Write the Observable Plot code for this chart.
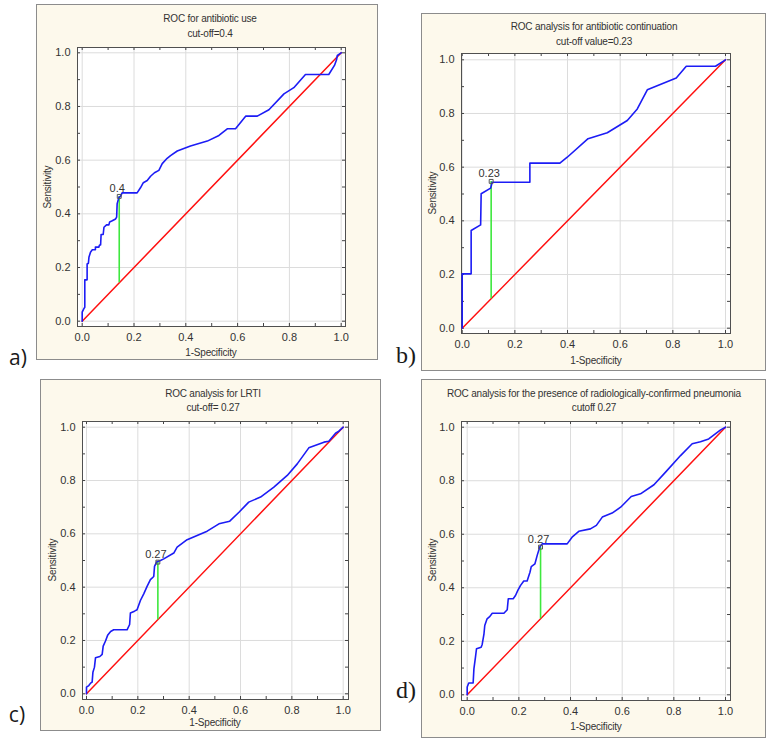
<!DOCTYPE html>
<html>
<head>
<meta charset="utf-8">
<script src="https://cdn.jsdelivr.net/npm/d3@7"></script>
<script src="https://cdn.jsdelivr.net/npm/@observablehq/plot@0.6"></script>
<style>
  html, body { margin: 0; padding: 0; background: #ffffff; }
  #root { position: relative; width: 770px; height: 742px; overflow: hidden; background: #ffffff; }
  .box { position: absolute; box-sizing: border-box; border: 1px solid #8c8c8c; background: #fdf9ec; }
  .lbl { position: absolute; font-family: "Liberation Sans", Arial, sans-serif; font-size: 10px; color: #333; white-space: nowrap; letter-spacing: -0.2px; }
  .ttl { transform: translate(-50%, -50%); text-align: center; }
  .ylab { transform: translate(-50%, -50%) rotate(-90deg); }
  .plab { position: absolute; transform: translate(-50%, -50%); color: #1a1a1a; white-space: nowrap; }
  .svgwrap { position: absolute; }
</style>
</head>
<body>
<div id="root"></div>
<script>
// ---------- data ----------
const panelLetters = ["a)", "b)", "c)", "d)"];
const titles = [
  "ROC for antibiotic use",
  "ROC analysis for antibiotic continuation",
  "ROC analysis for LRTI",
  "ROC analysis for the presence of radiologically-confirmed pneumonia"
];
const subtitles = ["cut-off=0.4", "cut-off value=0.23", "cut-off= 0.27", "cutoff 0.27"];
const xLabel = "1-Specificity";
const yLabel = "Sensitivity";
const majorTicks = [0, 0.2, 0.4, 0.6, 0.8, 1.0];
const minorTicks = [0, 0.1, 0.2, 0.3, 0.4, 0.5, 0.6, 0.7, 0.8, 0.9, 1.0];
const diagX = [0, 1];
const diagY = [0, 1];

// panel a: antibiotic use
const aX = [0, 0, 0.006, 0.01, 0.01, 0.019, 0.019, 0.024, 0.026, 0.032, 0.039, 0.051, 0.051, 0.064, 0.067, 0.071, 0.073, 0.081, 0.084, 0.094, 0.103, 0.106, 0.116, 0.129, 0.133, 0.135, 0.142, 0.148, 0.154, 0.212, 0.225, 0.236, 0.251, 0.264, 0.279, 0.296, 0.309, 0.328, 0.341, 0.367, 0.418, 0.483, 0.528, 0.560, 0.592, 0.631, 0.676, 0.721, 0.779, 0.817, 0.862, 0.952, 0.974, 0.982, 0.985, 1];
const aY = [0, 0.034, 0.046, 0.052, 0.154, 0.154, 0.213, 0.216, 0.238, 0.257, 0.266, 0.266, 0.276, 0.276, 0.284, 0.284, 0.323, 0.323, 0.350, 0.359, 0.359, 0.370, 0.374, 0.381, 0.388, 0.438, 0.462, 0.465, 0.478, 0.478, 0.497, 0.516, 0.524, 0.540, 0.553, 0.562, 0.587, 0.607, 0.617, 0.634, 0.653, 0.671, 0.692, 0.717, 0.717, 0.764, 0.764, 0.788, 0.847, 0.870, 0.919, 0.919, 0.953, 0.974, 0.990, 1];

// panel b: antibiotic continuation
const bX = [0, 0, 0.034, 0.034, 0.070, 0.072, 0.108, 0.114, 0.257, 0.257, 0.371, 0.399, 0.478, 0.551, 0.627, 0.665, 0.703, 0.813, 0.851, 0.962, 1];
const bY = [0, 0.2025, 0.2025, 0.364, 0.385, 0.501, 0.522, 0.544, 0.544, 0.615, 0.615, 0.637, 0.706, 0.728, 0.774, 0.817, 0.888, 0.932, 0.976, 0.976, 1];

// panel c: LRTI
const cX = [0, 0, 0.009, 0.016, 0.022, 0.025, 0.031, 0.035, 0.052, 0.061, 0.065, 0.074, 0.083, 0.094, 0.106, 0.158, 0.168, 0.171, 0.187, 0.197, 0.210, 0.223, 0.236, 0.249, 0.262, 0.265, 0.273, 0.288, 0.301, 0.340, 0.353, 0.392, 0.431, 0.470, 0.516, 0.558, 0.594, 0.632, 0.678, 0.730, 0.782, 0.821, 0.866, 0.925, 0.944, 0.970, 0.983, 1];
const cY = [0, 0.025, 0.031, 0.040, 0.044, 0.081, 0.100, 0.135, 0.140, 0.148, 0.179, 0.198, 0.221, 0.234, 0.240, 0.240, 0.260, 0.303, 0.310, 0.315, 0.350, 0.375, 0.403, 0.428, 0.440, 0.478, 0.494, 0.500, 0.506, 0.528, 0.550, 0.578, 0.594, 0.610, 0.6375, 0.6475, 0.681, 0.719, 0.738, 0.775, 0.819, 0.8625, 0.9225, 0.944, 0.9475, 0.9775, 0.985, 1];

// panel d: radiologically-confirmed pneumonia
const dX = [0, 0, 0.006, 0.023, 0.026, 0.032, 0.036, 0.054, 0.058, 0.065, 0.068, 0.077, 0.088, 0.097, 0.142, 0.155, 0.159, 0.178, 0.187, 0.196, 0.206, 0.219, 0.232, 0.243, 0.248, 0.262, 0.271, 0.281, 0.290, 0.387, 0.406, 0.432, 0.477, 0.500, 0.523, 0.561, 0.594, 0.635, 0.671, 0.723, 0.768, 0.826, 0.871, 0.903, 0.935, 0.981, 1];
const dY = [0, 0.029, 0.044, 0.044, 0.097, 0.141, 0.172, 0.178, 0.188, 0.228, 0.259, 0.284, 0.293, 0.305, 0.305, 0.318, 0.359, 0.359, 0.371, 0.390, 0.408, 0.425, 0.425, 0.458, 0.479, 0.489, 0.521, 0.552, 0.564, 0.564, 0.589, 0.611, 0.620, 0.633, 0.664, 0.679, 0.701, 0.741, 0.751, 0.785, 0.832, 0.894, 0.938, 0.946, 0.956, 0.990, 1];

const cutX = [0.143, 0.110, 0.278, 0.284];
const cutY = [0.465, 0.547, 0.494, 0.552];
const cutLabels = ["0.4", "0.23", "0.27", "0.27"];

// ---------- layout ----------
const seriesX = [aX, bX, cX, dX];
const seriesY = [aY, bY, cY, dY];
const layout = [
  { box: [36, 4, 342, 356], m: [43, 33, 34, 41], ins: [5.3, 4.3, 5.3, 4.7],
    title: [210, 18], sub: [210, 33], ylab: [47, 187], xlab: [211, 352], letter: [18, 357], letterFont: '21px "Open Sans", Lato, sans-serif' },
  { box: [421, 13, 345, 358], m: [40, 36, 38, 40], ins: [6.3, 5, 5.3, 0.7],
    title: [594, 26], sub: [594, 41], ylab: [432, 193], xlab: [596, 360], letter: [406, 355], letterFont: '24px "Liberation Serif", "DejaVu Serif", serif' },
  { box: [40, 379, 341, 352], m: [42, 33, 32, 42], ins: [5.7, 5.3, 5.7, 4],
    title: [213, 393], sub: [213, 407], ylab: [52, 560], xlab: [215, 722], letter: [17, 714], letterFont: '21px "Open Sans", Lato, sans-serif' },
  { box: [421, 379, 345, 359], m: [42, 36, 38, 40], ins: [5.7, 5, 5.7, 5.7],
    title: [594, 393], sub: [594, 407], ylab: [432, 560], xlab: [596, 726], letter: [406, 690], letterFont: '24px "Liberation Serif", "DejaVu Serif", serif' }
];

const root = document.getElementById("root");
function addText(cls, txt, pos, extraStyle) {
  const el = document.createElement("div");
  el.className = cls;
  el.textContent = txt;
  el.style.left = pos[0] + "px";
  el.style.top = pos[1] + "px";
  if (extraStyle) Object.assign(el.style, extraStyle);
  root.appendChild(el);
  return el;
}

layout.forEach((L, i) => {
  const [bx, by, bw, bh] = L.box;
  const [mt, mr, mb, ml] = L.m;
  const [it, ir, ib, il] = L.ins;
  const box = document.createElement("div");
  box.className = "box";
  Object.assign(box.style, { left: bx + "px", top: by + "px", width: bw + "px", height: bh + "px" });
  root.appendChild(box);

  const pts = seriesX[i].map((x, k) => ({ x, y: seriesY[i][k] }));
  const diag = diagX.map((x, k) => ({ x, y: diagY[k] }));
  const cut = [{ x: cutX[i], y: cutY[i], label: cutLabels[i] }];
  const plotH = bh - mt - mb;
  const plotW = bw - ml - mr;

  const chart = Plot.plot({
    width: bw, height: bh,
    marginTop: mt, marginRight: mr, marginBottom: mb, marginLeft: ml,
    style: { background: "transparent", fontFamily: '"Liberation Sans", Arial, sans-serif', fontSize: "11px", color: "#333", overflow: "visible" },
    x: { domain: [0, 1], insetLeft: il, insetRight: ir, ticks: majorTicks, tickFormat: d3.format(".1f"), tickSize: 0, tickPadding: 7, label: null },
    y: { domain: [0, 1], insetTop: it, insetBottom: ib, ticks: majorTicks, tickFormat: d3.format(".1f"), tickSize: 0, tickPadding: 7, label: null },
    marks: [
      Plot.frame({ fill: "#ffffff", stroke: null }),
      Plot.ruleX(majorTicks, { x: d => d, stroke: "#dcdcdc", strokeWidth: 1 }),
      Plot.ruleY(majorTicks, { y: d => d, stroke: "#dcdcdc", strokeWidth: 1 }),
      Plot.ruleX(minorTicks, { x: d => d, insetBottom: plotH - 3, stroke: "#444" }),
      Plot.ruleX(minorTicks, { x: d => d, insetTop: plotH - 3, stroke: "#444" }),
      Plot.ruleY(minorTicks, { y: d => d, insetRight: plotW - 3, stroke: "#444" }),
      Plot.ruleY(minorTicks, { y: d => d, insetLeft: plotW - 3, stroke: "#444" }),
      Plot.frame({ stroke: "#505050", strokeWidth: 1 }),
      Plot.line(diag, { x: "x", y: "y", stroke: "#ff1010", strokeWidth: 1.5 }),
      Plot.ruleX(cut, { x: "x", y1: "x", y2: "y", stroke: "#3ee83e", strokeWidth: 1.6 }),
      Plot.line(pts, { x: "x", y: "y", stroke: "#1c1cf5", strokeWidth: 1.6, curve: "linear" }),
      Plot.dot(cut, { x: "x", y: "y", symbol: "square", r: 2.2, stroke: "#555", fill: "none", strokeWidth: 1 }),
      Plot.text(cut, { x: "x", y: "y", text: "label", dy: -8, dx: -2, fill: "#333", fontSize: 11 })
    ]
  });
  const wrap = document.createElement("div");
  wrap.className = "svgwrap";
  wrap.style.left = bx + "px";
  wrap.style.top = by + "px";
  wrap.appendChild(chart);
  root.appendChild(wrap);

  addText("lbl ttl", titles[i], L.title);
  addText("lbl ttl", subtitles[i], L.sub);
  addText("lbl ylab", yLabel, L.ylab);
  addText("lbl ttl", xLabel, L.xlab);
  addText("plab", panelLetters[i], L.letter, { font: L.letterFont });
});
</script>
</body>
</html>
